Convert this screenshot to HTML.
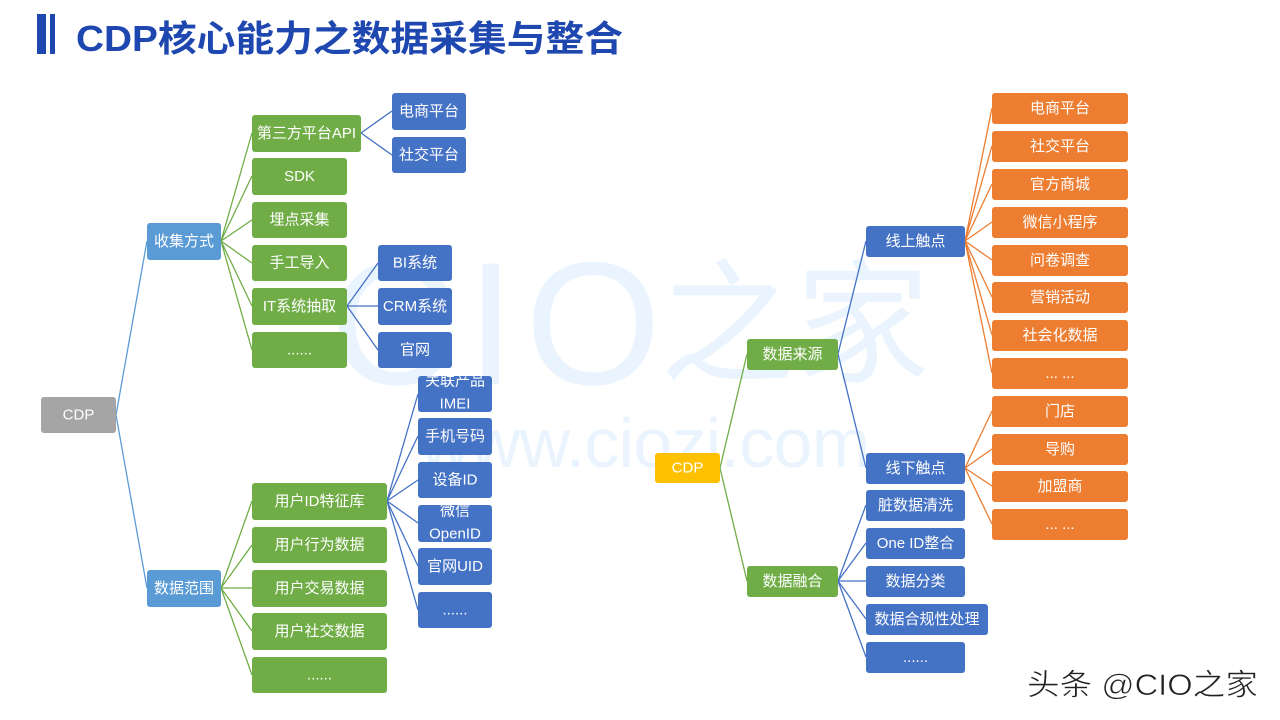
<!DOCTYPE html>
<html><head><meta charset="utf-8"><style>
html,body{margin:0;padding:0;background:#fff;}
svg{display:block;}
text{font-family:"Liberation Sans","Noto Sans CJK SC",sans-serif;}
.n{fill:#fff;font-size:15px;text-anchor:middle;dominant-baseline:central;}
</style></head><body>
<svg width="1280" height="720" viewBox="0 0 1280 720" xmlns="http://www.w3.org/2000/svg">
<!-- watermark -->
<g fill="#eaf4fe">
<text x="330" y="384" font-size="175" font-family="Liberation Sans, sans-serif" letter-spacing="10">CIO</text>
<text x="660" y="372" font-size="135" font-family="Noto Sans CJK SC, sans-serif">之家</text>
<text x="420" y="467" font-size="70" textLength="450" lengthAdjust="spacing">www.ciozi.com</text>
</g>
<!-- title -->
<rect x="37" y="14" width="9" height="40" fill="#1e47b0"/>
<rect x="50" y="14" width="5" height="40" fill="#1e47b0"/>
<text x="76" y="51" font-size="36" font-weight="bold" fill="#1e47b0" textLength="547" lengthAdjust="spacingAndGlyphs">CDP核心能力之数据采集与整合</text>

<!-- left connectors -->
<g stroke-width="1.3" fill="none">
<g stroke="#5b9bd5"><path d="M116 415L147 241M116 415L147 588"/></g>
<g stroke="#70ad47">
<path d="M221 241L252 133M221 241L252 176M221 241L252 220M221 241L252 263M221 241L252 306M221 241L252 350"/>
<path d="M221 588L252 501M221 588L252 545M221 588L252 588M221 588L252 631M221 588L252 675"/>
</g>
<g stroke="#4472c4">
<path d="M361 133L392 111M361 133L392 155"/>
<path d="M347 306L378 263M347 306L378 306M347 306L378 350"/>
<path d="M387 501L418 394M387 501L418 436M387 501L418 480M387 501L418 523M387 501L418 566M387 501L418 610"/>
</g>
<!-- right connectors -->
<g stroke="#70ad47"><path d="M720 468L747 354M720 468L747 581"/></g>
<g stroke="#4472c4">
<path d="M838 354L866 241M838 354L866 468"/>
<path d="M838 581L866 505M838 581L866 543M838 581L866 581M838 581L866 619M838 581L866 657"/>
</g>
<g stroke="#ed7d31">
<path d="M965 241L992 108M965 241L992 146M965 241L992 184M965 241L992 222M965 241L992 260M965 241L992 297M965 241L992 335M965 241L992 373"/>
<path d="M965 468L992 411M965 468L992 449M965 468L992 486M965 468L992 524"/>
</g>
</g>

<defs>
<clipPath id="c1"><rect x="418" y="376" width="74" height="36"/></clipPath>
<clipPath id="c2"><rect x="418" y="505" width="74" height="37"/></clipPath>
</defs>

<!-- left nodes -->
<rect x="41" y="397" width="75" height="36" rx="3" fill="#a5a5a5"/><text class="n" x="78.5" y="415">CDP</text>
<g fill="#5b9bd5">
<rect x="147" y="223" width="74" height="37" rx="3"/><rect x="147" y="570" width="74" height="37" rx="3"/>
</g>
<text class="n" x="184" y="241.5">收集方式</text><text class="n" x="184" y="588.5">数据范围</text>
<g fill="#70ad47">
<rect x="252" y="115" width="109" height="37" rx="3"/>
<rect x="252" y="158" width="95" height="37" rx="3"/>
<rect x="252" y="202" width="95" height="36" rx="3"/>
<rect x="252" y="245" width="95" height="36" rx="3"/>
<rect x="252" y="288" width="95" height="37" rx="3"/>
<rect x="252" y="332" width="95" height="36" rx="3"/>
<rect x="252" y="483" width="135" height="37" rx="3"/>
<rect x="252" y="527" width="135" height="36" rx="3"/>
<rect x="252" y="570" width="135" height="37" rx="3"/>
<rect x="252" y="613" width="135" height="37" rx="3"/>
<rect x="252" y="657" width="135" height="36" rx="3"/>
<rect x="747" y="339" width="91" height="31" rx="3"/>
<rect x="747" y="566" width="91" height="31" rx="3"/>
</g>
<text class="n" x="306.5" y="133.5">第三方平台API</text>
<text class="n" x="299.5" y="176.5">SDK</text>
<text class="n" x="299.5" y="220">埋点采集</text>
<text class="n" x="299.5" y="263">手工导入</text>
<text class="n" x="299.5" y="306.5">IT系统抽取</text>
<text class="n" x="299.5" y="350">......</text>
<text class="n" x="319.5" y="501.5">用户ID特征库</text>
<text class="n" x="319.5" y="545">用户行为数据</text>
<text class="n" x="319.5" y="588.5">用户交易数据</text>
<text class="n" x="319.5" y="631.5">用户社交数据</text>
<text class="n" x="319.5" y="675">......</text>
<text class="n" x="792.5" y="354.5">数据来源</text>
<text class="n" x="792.5" y="581.5">数据融合</text>

<g fill="#4472c4">
<rect x="392" y="93" width="74" height="37" rx="3"/>
<rect x="392" y="137" width="74" height="36" rx="3"/>
<rect x="378" y="245" width="74" height="36" rx="3"/>
<rect x="378" y="288" width="74" height="37" rx="3"/>
<rect x="378" y="332" width="74" height="36" rx="3"/>
<rect x="418" y="376" width="74" height="36" rx="3"/>
<rect x="418" y="418" width="74" height="37" rx="3"/>
<rect x="418" y="462" width="74" height="36" rx="3"/>
<rect x="418" y="505" width="74" height="37" rx="3"/>
<rect x="418" y="548" width="74" height="37" rx="3"/>
<rect x="418" y="592" width="74" height="36" rx="3"/>
<rect x="866" y="226" width="99" height="31" rx="3"/>
<rect x="866" y="453" width="99" height="31" rx="3"/>
<rect x="866" y="490" width="99" height="31" rx="3"/>
<rect x="866" y="528" width="99" height="31" rx="3"/>
<rect x="866" y="566" width="99" height="31" rx="3"/>
<rect x="866" y="604" width="122" height="31" rx="3"/>
<rect x="866" y="642" width="99" height="31" rx="3"/>
</g>
<text class="n" x="429" y="111.5">电商平台</text>
<text class="n" x="429" y="155">社交平台</text>
<text class="n" x="415" y="263">BI系统</text>
<text class="n" x="415" y="306.5">CRM系统</text>
<text class="n" x="415" y="350">官网</text>
<g clip-path="url(#c1)"><text class="n" x="455" y="381">关联产品</text><text class="n" x="455" y="404">IMEI</text></g>
<text class="n" x="455" y="436.5">手机号码</text>
<text class="n" x="455" y="480">设备ID</text>
<g clip-path="url(#c2)"><text class="n" x="455" y="511">微信</text><text class="n" x="455" y="534">OpenID</text></g>
<text class="n" x="455" y="566.5">官网UID</text>
<text class="n" x="455" y="610">......</text>
<text class="n" x="915.5" y="241.5">线上触点</text>
<text class="n" x="915.5" y="468.5">线下触点</text>
<text class="n" x="915.5" y="505.5">脏数据清洗</text>
<text class="n" x="915.5" y="543.5">One ID整合</text>
<text class="n" x="915.5" y="581.5">数据分类</text>
<text class="n" x="927" y="619.5">数据合规性处理</text>
<text class="n" x="915.5" y="657.5">......</text>

<rect x="655" y="453" width="65" height="30" rx="3" fill="#ffc000"/><text class="n" x="687.5" y="468">CDP</text>

<g fill="#ed7d31">
<rect x="992" y="93" width="136" height="31" rx="3"/>
<rect x="992" y="131" width="136" height="31" rx="3"/>
<rect x="992" y="169" width="136" height="31" rx="3"/>
<rect x="992" y="207" width="136" height="31" rx="3"/>
<rect x="992" y="245" width="136" height="31" rx="3"/>
<rect x="992" y="282" width="136" height="31" rx="3"/>
<rect x="992" y="320" width="136" height="31" rx="3"/>
<rect x="992" y="358" width="136" height="31" rx="3"/>
<rect x="992" y="396" width="136" height="31" rx="3"/>
<rect x="992" y="434" width="136" height="31" rx="3"/>
<rect x="992" y="471" width="136" height="31" rx="3"/>
<rect x="992" y="509" width="136" height="31" rx="3"/>
</g>
<text class="n" x="1060" y="108.5">电商平台</text>
<text class="n" x="1060" y="146.5">社交平台</text>
<text class="n" x="1060" y="184.5">官方商城</text>
<text class="n" x="1060" y="222.5">微信小程序</text>
<text class="n" x="1060" y="260.5">问卷调查</text>
<text class="n" x="1060" y="297.5">营销活动</text>
<text class="n" x="1060" y="335.5">社会化数据</text>
<text class="n" x="1060" y="373.5">... ...</text>
<text class="n" x="1060" y="411.5">门店</text>
<text class="n" x="1060" y="449.5">导购</text>
<text class="n" x="1060" y="486.5">加盟商</text>
<text class="n" x="1060" y="524.5">... ...</text>

<text x="1027" y="695" font-size="30" fill="#222" stroke="#fff" stroke-width="0.6" textLength="231" lengthAdjust="spacingAndGlyphs">头条 @CIO之家</text>
</svg>
</body></html>
